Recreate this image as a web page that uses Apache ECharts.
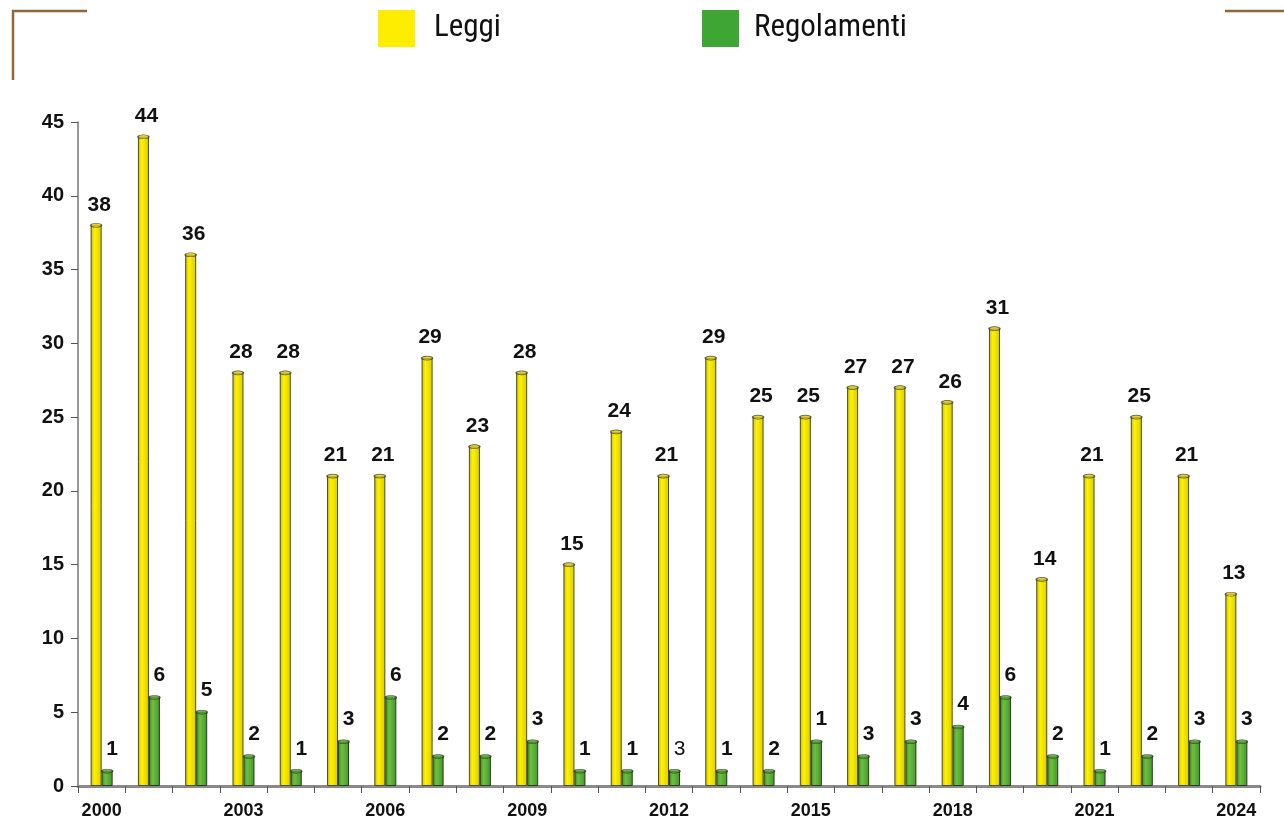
<!DOCTYPE html>
<html>
<head>
<meta charset="utf-8">
<script src="https://cdn.jsdelivr.net/npm/echarts@6/dist/echarts.min.js"></script>
<style>
html,body{margin:0;padding:0;background:#fff;}
#chart{width:1284px;height:824px;}
</style>
</head>
<body>
<div id="chart"></div>
<script>
const years = ['2000','2001','2002','2003','2004','2005','2006','2007','2008','2009','2010','2011','2012','2013','2014','2015','2016','2017','2018','2019','2020','2021','2022','2023','2024'];
const leggi = [38,44,36,28,28,21,21,29,23,28,15,24,21,29,25,25,27,27,26,31,14,21,25,21,13];
const regolamenti = [1,6,5,2,1,3,6,2,2,3,1,1,1,1,1,3,2,3,4,6,2,1,2,3,3];
// labels as printed in the original chart
const regLabels = ['1','6','5','2','1','3','6','2','2','3','1','1','3','1','2','1','3','3','4','6','2','1','2','3','3'];
const yTicks = [0,5,10,15,20,25,30,35,40,45];

const FONT = '"Liberation Sans", Arial, sans-serif';
const LFONT = '"Liberation Sans Narrow","Roboto Condensed","Liberation Sans",sans-serif';
const chart = echarts.init(document.getElementById('chart'));

const yellowFill = new echarts.graphic.LinearGradient(0,0,1,0,[
  {offset:0,color:'#c9bd00'},{offset:0.35,color:'#fff200'},{offset:1,color:'#d9cc00'}]);
const greenFill = new echarts.graphic.LinearGradient(0,0,1,0,[
  {offset:0,color:'#3f8f25'},{offset:0.35,color:'#6cc040'},{offset:1,color:'#44952a'}]);

const option = {
  animation:false,
  backgroundColor:'#fff',
  legend:[
    {data:[{name:'Leggi', itemStyle:{color:'#ffed00', borderWidth:0}}], left:378, top:10, padding:0,
     itemWidth:37, itemHeight:37, icon:'rect', itemGap:0,
     textStyle:{fontFamily:LFONT, fontSize:31, color:'#111', padding:[8,0,0,14]}},
    {data:[{name:'Regolamenti', itemStyle:{color:'#3fa535', borderWidth:0}}], left:702, top:10, padding:0,
     itemWidth:37, itemHeight:37, icon:'rect', itemGap:0,
     textStyle:{fontFamily:LFONT, fontSize:31, color:'#111', padding:[8,0,0,10]}}
  ],
  grid:{left:78, right:24, top:122, bottom:38},
  xAxis:{
    type:'category', data:years,
    axisLine:{lineStyle:{color:'#8a8a8a', width:3}},
    axisTick:{show:true, interval:0, length:7, lineStyle:{color:'#555'}},
    axisLabel:{interval:2, color:'#111', fontFamily:FONT, fontWeight:'bold', fontSize:18, margin:16}
  },
  yAxis:{
    type:'value', min:0, max:45, interval:5,
    axisLine:{show:true, lineStyle:{color:'#777', width:1.5}},
    axisTick:{show:true, length:7, lineStyle:{color:'#555'}},
    splitLine:{show:false},
    axisLabel:{color:'#111', fontFamily:FONT, fontWeight:'bold', fontSize:20, margin:14,
      formatter:v=> yTicks.includes(v) ? String(v) : ''}
  },
  series:[
    {name:'Leggi', type:'bar', data:leggi, barWidth:11, barGap:'0%',
     itemStyle:{color:yellowFill, borderColor:'#4a4a30', borderWidth:1},
     label:{show:true, position:'top', distance:10, offset:[3,0], color:'#111', fontFamily:FONT, fontWeight:'bold', fontSize:21}},
    {name:'Regolamenti', type:'bar', barWidth:11,
     data: regolamenti.map((v,i)=> i===12 ? {value:v, label:{fontWeight:'normal'}} : v),
     itemStyle:{color:greenFill, borderColor:'#2a3a20', borderWidth:1},
     label:{show:true, position:'top', distance:12, offset:[5,0], color:'#111', fontFamily:FONT, fontWeight:'bold', fontSize:21,
       formatter:p=>regLabels[p.dataIndex]}},
    {name:'capL', type:'scatter', data:leggi, symbol:'circle', symbolSize:[11,4], symbolOffset:[-5.5,0],
     itemStyle:{color:'#d8cb10', borderColor:'#3a3a20', borderWidth:1}, silent:true, z:5},
    {name:'capR', type:'scatter', data:regolamenti, symbol:'circle', symbolSize:[11,4], symbolOffset:[5.5,0],
     itemStyle:{color:'#4f9f30', borderColor:'#223018', borderWidth:1}, silent:true, z:5}
  ],
  graphic:[
    {type:'polyline', shape:{points:[[13,80],[13,11],[87,11]]}, style:{stroke:'#8b6a3a', lineWidth:2.5, fill:null}},
    {type:'line', shape:{x1:1225,y1:11,x2:1284,y2:11}, style:{stroke:'#8b6a3a', lineWidth:2.5}}
  ]
};
chart.setOption(option);
</script>
</body>
</html>
